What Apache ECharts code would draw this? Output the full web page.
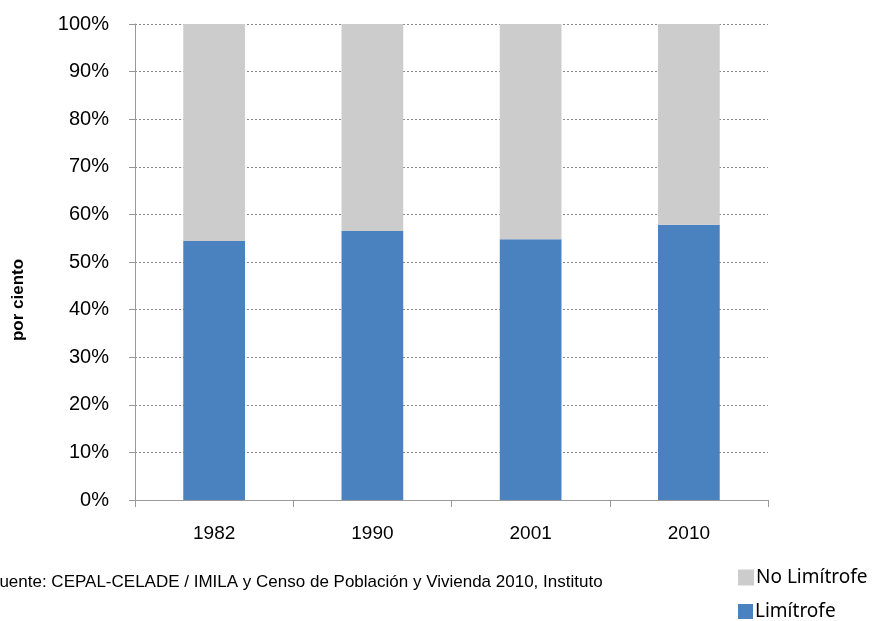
<!DOCTYPE html>
<html>
<head>
<meta charset="utf-8">
<script src="https://cdn.jsdelivr.net/npm/echarts@6/dist/echarts.min.js"></script>
<style>
  html, body { margin: 0; padding: 0; background: #fff; }
  #main { width: 875px; height: 621px; }
</style>
</head>
<body>
<div id="main"></div>
<script>
// años del censo
var years = ["1982", "1990", "2001", "2010"];
// porcentaje de población limítrofe
var limitrofe = [54.4, 56.5, 54.8, 57.8];
var noLimitrofe = limitrofe.map(function (v) { return +(100 - v).toFixed(1); });
var yTicks = [0, 10, 20, 30, 40, 50, 60, 70, 80, 90, 100];

var legendText = { fontFamily: "Noto Sans", fontSize: 19, lineHeight: 19, color: "#000", padding: [0, 0, 0, -3] };

var chart = echarts.init(document.getElementById("main"));
chart.setOption({
  animation: false,
  grid: { left: 135, right: 107, top: 24, bottom: 121 },
  legend: [
    {
      left: 734, top: 564, padding: 4,
      itemWidth: 16, itemHeight: 16, icon: "rect",
      textStyle: legendText,
      data: ["No Limítrofe"]
    },
    {
      left: 734, top: 598, padding: 4,
      itemWidth: 15, itemHeight: 15, icon: "rect",
      textStyle: legendText,
      data: ["Limítrofe"]
    }
  ],
  graphic: [
    {
      type: "text",
      left: -11,
      top: 574,
      style: {
        text: "Fuente: CEPAL-CELADE / IMILA y Censo de Población y Vivienda 2010, Instituto",
        font: "17px 'Liberation Sans', sans-serif",
        fill: "#000"
      }
    },
    {
      type: "text",
      x: 18,
      y: 300,
      rotation: Math.PI / 2,
      style: {
        text: "por ciento",
        font: "bold 17px 'Liberation Sans', sans-serif",
        fill: "#000",
        align: "center",
        verticalAlign: "middle"
      }
    }
  ],
  xAxis: {
    type: "category",
    data: years,
    axisLine: { lineStyle: { color: "#999" } },
    axisTick: { show: true, length: 7, lineStyle: { color: "#999" } },
    axisLabel: { color: "#000", fontSize: 19, fontFamily: "Liberation Sans", margin: 24 }
  },
  yAxis: {
    type: "value",
    min: 0,
    max: 100,
    interval: 10,
    axisLine: { show: true, lineStyle: { color: "#999" } },
    axisTick: { show: true, length: 6, lineStyle: { color: "#999" } },
    splitLine: { lineStyle: { color: "#888", type: [2, 2], width: 1 } },
    axisLabel: {
      color: "#000",
      fontSize: 20,
      fontFamily: "Liberation Sans",
      margin: 26,
      formatter: function (v) { return yTicks.indexOf(v) >= 0 ? v + "%" : ""; }
    }
  },
  series: [
    {
      name: "Limítrofe",
      type: "bar",
      stack: "total",
      barWidth: "39%",
      data: limitrofe,
      itemStyle: { color: "#4A81BF" }
    },
    {
      name: "No Limítrofe",
      type: "bar",
      stack: "total",
      barWidth: "39%",
      data: noLimitrofe,
      itemStyle: { color: "#CCCCCC" }
    }
  ]
});
</script>
</body>
</html>
